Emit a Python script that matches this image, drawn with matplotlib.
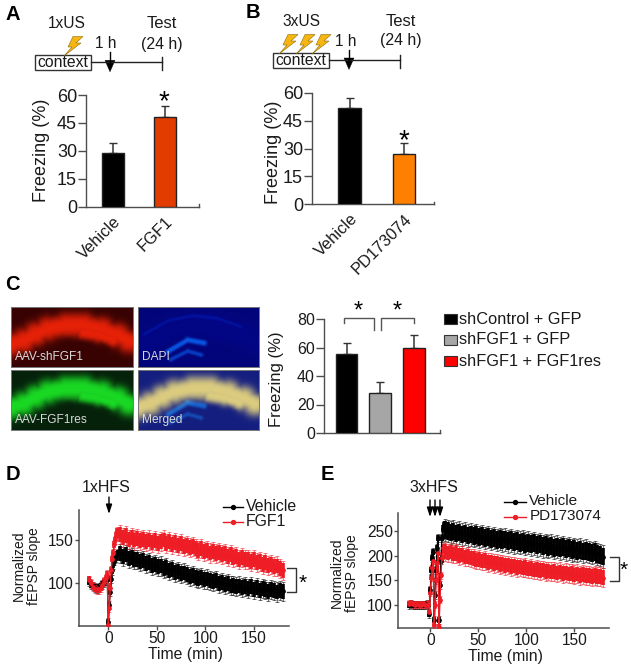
import numpy as np
import matplotlib
matplotlib.use("Agg")
import matplotlib.pyplot as plt
from matplotlib.patches import Rectangle, Polygon

plt.rcParams['font.family'] = ['Liberation Sans', 'DejaVu Sans']

W, H = 631, 667

# ---------- data ----------
a_labels = ["Vehicle", "FGF1"]
a_values = [29, 48]
a_errors = [5, 6]
b_labels = ["Vehicle", "PD173074"]
b_values = [52, 27]
b_errors = [5, 6]
c_labels = ["shControl + GFP", "shFGF1 + GFP", "shFGF1 + FGF1res"]
c_values = [55.5, 28, 60]
c_errors = [8, 7.5, 9]

d_t_early = [-20, -18, -16, -14, -12, -10, -8, -6, -4, -2, -1, 0, 1, 2, 3, 4, 5, 6, 7, 8, 9, 10]
d_vehicle_early = [102, 99, 97, 95, 94, 95, 97, 99, 101, 103, 105, 55, 75, 90, 105, 115, 122, 126, 128, 130, 133, 135]
d_fgf1_early = [104, 100, 96, 94, 93, 93, 95, 98, 102, 106, 110, 52, 72, 95, 115, 128, 135, 145, 150, 155, 160, 158]
d_vehicle_late = [134, 131, 133, 129, 130, 127, 128, 125, 126, 123,
                  124, 121, 122, 119, 120, 117, 118, 115, 116, 113,
                  114, 111, 112, 110, 108, 109, 107, 106, 107, 104,
                  105, 103, 102, 103, 100, 101, 99, 100, 97, 98,
                  96, 97, 95, 96, 94, 96, 93, 95, 92, 94,
                  93, 91, 93, 92, 90, 92, 91]
d_fgf1_late = [156, 153, 155, 151, 153, 150, 152, 149, 151, 148,
               150, 147, 149, 146, 148, 150, 146, 148, 145, 147,
               144, 146, 142, 144, 141, 143, 140, 138, 140, 137,
               138, 135, 137, 134, 136, 133, 134, 131, 133, 130,
               131, 128, 130, 127, 128, 125, 127, 124, 125, 122,
               124, 121, 122, 119, 120, 117, 115]
d_sem = [5, 11]   # early, late

e_t_early = [-22, -20, -18, -16, -14, -12, -10, -8, -6, -4, -2, -1, 0, 1, 2, 3, 4, 5, 6, 7, 8, 9, 10, 11, 12, 13, 14]
e_vehicle_early = [100, 101, 100, 99, 100, 100, 99, 100, 100, 101, 100, 82, 130, 170, 195, 208, 70, 120, 170, 215, 235, 70, 140, 190, 235, 255, 262]
e_pd_early = [102, 103, 101, 100, 101, 100, 100, 101, 100, 100, 102, 85, 125, 155, 175, 190, 60, 100, 150, 185, 205, 55, 110, 160, 195, 215, 218]
e_vehicle_late = [252, 250, 247, 249, 245, 247, 243, 245, 241, 243,
                  240, 242, 238, 240, 236, 238, 234, 236, 232, 234,
                  231, 233, 229, 231, 227, 229, 226, 228, 224, 226,
                  223, 225, 221, 223, 219, 221, 218, 220, 216, 218,
                  215, 217, 213, 215, 211, 213, 210, 212, 208, 210,
                  207, 205, 207, 203, 201, 198]
e_pd_late = [208, 205, 207, 203, 204, 200, 201, 197, 198, 195,
             194, 191, 192, 189, 190, 186, 187, 184, 185, 182,
             183, 180, 181, 178, 179, 176, 177, 175, 176, 173,
             174, 171, 172, 170, 171, 168, 169, 167, 168, 165,
             167, 164, 165, 163, 164, 161, 163, 160, 162, 159,
             160, 158, 159, 157, 158, 155]
e_sem = [8, 23]  # early, late (vehicle); PD is a little narrower
e_sem_pd = [7, 19]

# ---------- helpers ----------
fig = plt.figure(figsize=(W / 100, H / 100), dpi=100, facecolor="white")

def axpx(x0, y0, x1, y1, **kw):
    return fig.add_axes([x0 / W, 1 - y1 / H, (x1 - x0) / W, (y1 - y0) / H], **kw)

ov = axpx(0, 0, W, H, zorder=20)
ov.set_xlim(0, W)
ov.set_ylim(H, 0)
ov.axis("off")
ov.patch.set_alpha(0)

GREY = "#4d4d4d"
TXT = "#1a1a1a"

def bar_panel(box, xlim, ymax, yticks, labels, values, errors, colors, ylabel, ylab_xy, fs=13, lab_fs=13, xl_fs=11.8, rot_labels=True):
    ax = axpx(*box)
    xs = np.arange(len(values))
    ax.bar(xs, values, width=0.64 if len(values) == 3 else 0.41, color=colors, edgecolor="#222222", linewidth=1.0, zorder=3)
    ax.errorbar(xs, values, yerr=[[0] * len(errors), errors], fmt="none", ecolor="#333333", elinewidth=1.1, capsize=3.2, capthick=1.0, zorder=2)
    ax.set_xlim(*xlim)
    ax.set_ylim(0, ymax)
    ax.set_yticks(yticks)
    ax.spines["top"].set_visible(False)
    ax.spines["right"].set_visible(False)
    for s in ("left", "bottom"):
        ax.spines[s].set_color(GREY)
        ax.spines[s].set_linewidth(1.0)
    ax.tick_params(axis="y", length=6, width=1, color=GREY, labelsize=fs, labelcolor=TXT, pad=0.5)
    if rot_labels:
        ax.set_xticks(xs)
        ax.set_xticklabels(labels, rotation=45, ha="right", rotation_mode="anchor", fontsize=xl_fs, color=TXT)
        ax.tick_params(axis="x", length=0, pad=5)
    else:
        ax.set_xticks([])
    ax.set_ylabel(ylabel, fontsize=lab_fs, color=TXT, va="center")
    ax.yaxis.set_label_coords(*ylab_xy, transform=ov.transData)
    ax.plot([1, 1], [0, 0.022], transform=ax.transAxes, color=GREY, lw=1, clip_on=False)
    return ax

def bolt(cx, cy, s=1.0):
    pts = np.array([(-1, -9.5), (9, -9.5), (2, -3), (7, -3), (-10, 10), (-2, 1), (-6, 1)])
    pts = pts * s + [cx, cy]
    ov.add_patch(Polygon(pts, closed=True, fc="#f6b60f", ec="#8a6a10", lw=0.4))

def timeline(box_x0, box_x1, box_y0, box_y1, line_y, arrow_x, end_x, us, us_x, us_y, h_x, h_y, test_x, test_y1, test_y2, bolts):
    ov.plot([box_x1, end_x], [line_y, line_y], color="#222222", lw=1.0)
    ov.plot([end_x, end_x], [line_y - 5.5, line_y + 7.5], color="#222222", lw=1.0)
    ov.add_patch(Rectangle((box_x0, box_y0), box_x1 - box_x0, box_y1 - box_y0, fc="white", ec="#333333", lw=1.0))
    for b in bolts:
        bolt(*b)
    ov.text((box_x0 + box_x1) / 2, (box_y0 + box_y1) / 2, "context", ha="center", va="center", fontsize=11.3, color=TXT)
    ov.plot([arrow_x, arrow_x], [line_y - 10, line_y], color="black", lw=1.0)
    ov.add_patch(Polygon([(arrow_x - 5, line_y - 2), (arrow_x + 5, line_y - 2), (arrow_x, line_y + 9.5)], closed=True, fc="black", ec="black", lw=0.3))
    ov.text(us_x, us_y, us, ha="center", va="center", fontsize=11.2, color=TXT)
    ov.text(h_x, h_y, "1 h", ha="center", va="center", fontsize=11.2, color=TXT)
    ov.text(test_x, test_y1, "Test", ha="center", va="center", fontsize=12, color=TXT)
    ov.text(test_x, test_y2, "(24 h)", ha="center", va="center", fontsize=11.4, color=TXT)

def star(x, y, fs=20):
    ov.text(x, y, "*", ha="center", va="center", fontsize=fs, color="black")

def ltp_panel(box, xlim, ylim, xticks, yticks, t_e, t_l, early1, late1, early2, late2, sem1, sem2, name1, name2, leg_x0, leg_x1, leg_ys, leg_tx, leg_fs, xlab_xy, ylab_xy, cols=("black", "#ee1c25")):
    ax = axpx(*box)
    for te, ee, le, sem, c in ((t_e, early1, late1, sem1, cols[0]), (t_e, early2, late2, sem2, cols[1])):
        tt = np.r_[te, t_l]
        yy = np.r_[ee, le]
        ss = np.r_[[sem[0]] * len(ee), [sem[1]] * len(le)]
        ax.errorbar(tt, yy, yerr=ss, fmt="none", ecolor=c, elinewidth=0.9, capsize=1.6, capthick=0.7, alpha=0.55, zorder=3)
        ax.errorbar(tt, yy, yerr=ss * 0.78, fmt="-o", color=c, ecolor=c, ms=2.4, lw=1.0, elinewidth=2.6, capsize=0, zorder=4)
    ax.set_xlim(*xlim)
    ax.set_ylim(*ylim)
    ax.set_xticks(xticks)
    ax.set_yticks(yticks)
    ax.spines["top"].set_visible(False)
    ax.spines["right"].set_visible(False)
    for s in ("left", "bottom"):
        ax.spines[s].set_color(GREY)
        ax.spines[s].set_linewidth(1.1)
    ax.tick_params(length=3, width=1, color=GREY, labelsize=11.2, labelcolor=TXT, pad=0.5)
    ax.set_xlabel("Time (min)", fontsize=11.3, color=TXT, va="center")
    ax.xaxis.set_label_coords(*xlab_xy, transform=ov.transData)
    ax.set_ylabel("Normalized\nfEPSP slope", fontsize=10, color=TXT, linespacing=1.1, va="center", ha="center", multialignment="center")
    ax.yaxis.set_label_coords(*ylab_xy, transform=ov.transData)
    for nm, yy, c in ((name1, leg_ys[0], cols[0]), (name2, leg_ys[1], cols[1])):
        ov.plot([leg_x0, leg_x1], [yy, yy], color=c, lw=1.0)
        ov.plot([(leg_x0 + leg_x1) / 2], [yy], "o", color=c, ms=2.8)
        ov.text(leg_tx, yy - 0.5, nm, ha="left", va="center", fontsize=leg_fs, color=TXT)
    return ax

def sideline(x0, x1, y0, y1):
    ov.plot([x0, x1, x1, x0], [y0, y0, y1, y1], color="#333333", lw=1.0)

def hfs_arrow(x, y0, y1):
    ov.annotate("", xy=(x, y1), xytext=(x, y0), arrowprops=dict(arrowstyle="-|>,head_width=0.18,head_length=0.55", color="black", lw=1.0, shrinkA=0, shrinkB=0))

# ---------- panel letters ----------
for s, x, y in (("A", 13, 14), ("B", 253, 13), ("C", 12, 285), ("D", 13, 474), ("E", 327, 475)):
    ov.text(x, y, s, ha="center", va="center", fontsize=14.5, fontweight="bold", color="black")

# ---------- A ----------
timeline(34.7, 91, 55, 70, 62.3, 110, 161.7, "1xUS", 66.7, 24, 106, 43, 161.7, 24, 44, [(74, 46)])
bar_panel((86, 95, 199, 206.7), (-0.52, 1.65), 60, [0, 15, 30, 45, 60], a_labels, a_values, a_errors, ["black", "#e33c00"], "Freezing (%)", (41, 150))
star(164, 102)

# ---------- B ----------
timeline(273, 329, 52.7, 67.7, 60, 349, 400, "3xUS", 301, 21, 346, 41, 401, 21, 41, [(289, 44), (306, 44), (322, 44)])
bar_panel((312, 92.7, 434, 204.3), (-0.69, 1.55), 60, [0, 15, 30, 45, 60], b_labels, b_values, b_errors, ["black", "#ff8000"], "Freezing (%)", (274, 152))
star(404, 141)

# ---------- C micrographs (illustrative images, not data) ----------
def band(u, v, pts, w, p=3):
    d = np.full(u.shape, 1e9)
    for (x0, y0), (x1, y1) in zip(pts[:-1], pts[1:]):
        dx, dy = x1 - x0, y1 - y0
        t = np.clip(((u - x0) * dx + (v - y0) * dy) / (dx * dx + dy * dy), 0, 1)
        d = np.minimum(d, np.hypot((u - x0 - t * dx) * 2, v - y0 - t * dy))
    return np.exp(-(d / w) ** p)

v, u = np.mgrid[0:1:60j, 0:1:122j]
arch = band(u, v, [(0.00, 0.62), (0.10, 0.56), (0.20, 0.45), (0.30, 0.36), (0.45, 0.30), (0.60, 0.30), (0.75, 0.37), (0.88, 0.47), (0.97, 0.56)], 0.21)
inner = band(u, v, [(0.60, 0.42), (0.72, 0.46), (0.84, 0.54)], 0.14)
notch = band(u, v, [(0.47, 0.64), (0.60, 0.70)], 0.12)
lowdark = band(u, v, [(0.62, 0.76), (0.80, 0.70)], 0.05)
hip = np.clip(np.maximum(arch, inner) * (1 - 0.9 * notch) * (1 - 0.5 * lowdark), 0, 1)
dg = np.clip(band(u, v, [(0.25, 0.74), (0.41, 0.55), (0.545, 0.60)], 0.05) + band(u, v, [(0.27, 0.88), (0.41, 0.74), (0.52, 0.80)], 0.04) * 0.7, 0, 1)
rim = band(u, v, [(0.05, 0.45), (0.25, 0.22), (0.45, 0.14), (0.65, 0.18), (0.85, 0.32)], 0.03)

def rgb(r, g, b):
    return np.clip(np.dstack([r, g, b]), 0, 1)

red = rgb(0.22 + 0.68 * hip, 0.01 + 0.12 * hip, 0.01 + 0.02 * hip)
blue = rgb(0.01 + 0.02 * dg, 0.02 + 0.32 * dg + 0.05 * rim, 0.48 + 0.04 * hip + 0.42 * dg + 0.12 * rim)
green = rgb(0.02 + 0.08 * hip, 0.13 + 0.72 * hip, 0.04 + 0.10 * hip)
merged = rgb(0.08 + 0.78 * hip, 0.12 + 0.68 * hip + 0.25 * dg, 0.50 + 0.0 * hip + 0.3 * dg)

imgs = [(11, 307, 133, 367, red, "AAV-shFGF1"),
        (137.7, 307, 258.7, 367, blue, "DAPI"),
        (11, 370, 133, 430, green, "AAV-FGF1res"),
        (137.7, 370, 258.7, 430, merged, "Merged")]
for x0, y0, x1, y1, im, nm in imgs:
    a = axpx(x0, y0, x1, y1)
    a.imshow(im, aspect="auto", interpolation="bicubic")
    a.set_xticks([]); a.set_yticks([])
    for s in a.spines.values():
        s.set_color("#777777"); s.set_linewidth(0.7)
    a.text(0.035, 0.16, nm, transform=a.transAxes, color="#d9d9d9", fontsize=8.6, ha="left", va="center")

# ---------- C bars ----------
bar_panel((324, 319, 440, 433), (-0.67, 2.78), 80, [0, 20, 40, 60, 80], c_labels, c_values, c_errors, ["black", "#a6a6a6", "#ff0000"], "Freezing (%)", (277, 379), fs=11.5, lab_fs=12, rot_labels=False)
for xs, ys in (([344.3, 344.3, 374.3, 374.3], [322.7, 317.7, 317.7, 329.7]), ([381.3, 381.3, 414.3, 414.3], [329.7, 317.7, 317.7, 322.7])):
    ov.plot(xs, ys, color="#555555", lw=1.0)
star(358.7, 312, 17)
star(397.7, 312, 17)
for lab, col, yc in zip(c_labels, ["black", "#a6a6a6", "#ff0000"], (319, 340, 361)):
    ov.add_patch(Rectangle((444, yc - 5), 13, 10, fc=col, ec="#333333", lw=0.8))
    ov.text(459, yc, lab, ha="left", va="center", fontsize=11.8, color=TXT)

# ---------- D ----------
d_t_late = np.arange(12, 181, 3)
ltp_panel((78.7, 510, 289, 626), (-30.5, 186.3), (50.8, 184.6), [0, 50, 100, 150], [100, 150],
          d_t_early, d_t_late, d_vehicle_early, d_vehicle_late, d_fgf1_early, d_fgf1_late, d_sem, d_sem,
          "Vehicle", "FGF1", 222.7, 242.7, (506.7, 522), 246, 11.4, (185.7, 655), (26, 566))
ov.text(106, 488, "1xHFS", ha="center", va="center", fontsize=11.5, color=TXT)
hfs_arrow(109, 497, 514)
sideline(287, 296.3, 567.7, 591.7)
star(303, 583, 15)

# ---------- E ----------
e_t_late = np.arange(15, 181, 3)
ltp_panel((397.7, 513, 609, 628), (-34, 186), (53, 286.5), [0, 50, 100, 150], [100, 150, 200, 250],
          e_t_early, e_t_late, e_vehicle_early, e_vehicle_late, e_pd_early, e_pd_late, e_sem, e_sem_pd,
          "Vehicle", "PD173074", 504, 525.7, (501.7, 516.7), 529.3, 11, (505, 657), (344, 573))
ov.text(434, 488, "3xHFS", ha="center", va="center", fontsize=11.5, color=TXT)
for xa in (430, 435, 440):
    hfs_arrow(xa, 500, 517)
sideline(610, 619, 556.7, 581)
star(624, 570, 15)

fig.savefig("out.png", dpi=100, facecolor="white")
